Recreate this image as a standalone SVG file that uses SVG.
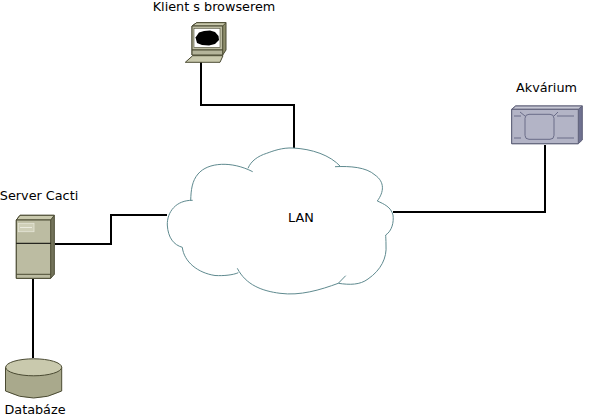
<svg xmlns="http://www.w3.org/2000/svg" width="603" height="419" viewBox="0 0 603 419">
<style>
text{font-family:"DejaVu Sans",sans-serif;font-size:12.8px;fill:#000}
.c{fill:none;stroke:#000;stroke-width:2}
.o{stroke:#4a4a32;stroke-width:1;stroke-linejoin:round}
.a{stroke:#5e6078;stroke-width:1;stroke-linejoin:round}
.l{fill:none;stroke:#6a6c88;stroke-width:1}
</style>
<rect width="603" height="419" fill="#fff"/>
<g id="connectors">
<path class="c" d="M201 62V105H294V148"/>
<path class="c" d="M55 244H111V215H167"/>
<path class="c" d="M393 212H545V145"/>
<path class="c" d="M33 279V358"/>
</g>
<g id="lan">
<path fill="#fff" stroke="none" d="M252.700 171.700C232 161 208 162 198 174C192 181 191 190 190.700 200.500C176 200 167 212 167.300 225C168 238 174 245 182.300 247.300C184 262 198 273 215 275.500C224 276 233 275 238.300 272.700C246 285 262 291 280 293.300C300 296 320 290 338.300 283.300C350 285 360 285 368 279C381 270 387 258 386 245C386 240 385.700 237 385.700 235C392 231 394 222 393 215C391 207 384 204 377.300 201C384 192 385 182 375 175C366 167 350 166 340.700 166.700C330 155 312 149 293 148C282 147.500 273 151 266.700 153.300C258 156 251 161 248 168.300Z"/>
<path fill="none" stroke="#5f8a8f" stroke-width="1" d="M252.700 171.700C232 161 208 162 198 174C192 181 191 190 190.700 200.500M192.700 200.300C176 200 167 212 167.300 225C168 238 174 245 182.300 247.300C184 262 198 273 215 275.500C224 276 233 275 238.300 272.700M237.300 268.300C246 285 262 291 280 293.300C300 296 320 290 338.300 283.300L345.700 275.700M338.300 283.300C350 285 360 285 368 279C381 270 387 258 386 245C386 240 385.700 237 385.700 235C392 231 394 222 393 215C391 207 384 204 377.300 201C384 192 385 182 375 175C366 167 350 166 335 166.700M340.700 166.700C330 155 312 149 293 148C282 147.500 273 151 266.700 153.300C258 156 251 161 248 168.300"/>
<text x="301" y="222" text-anchor="middle">LAN</text>
</g>
<g id="klient">
<path class="o" fill="#8c8c6a" d="M192 26L196.700 22.700H226V50L222.700 55H192Z"/>
<path class="o" fill="#c9c9ad" d="M192 26L196.700 22.700H226L222.700 26Z"/>
<rect class="o" x="192" y="26" width="30.700" height="24" fill="#bcbca2"/>
<rect x="194" y="28.300" width="26" height="19" fill="#fff" stroke="#4a4a32" stroke-width=".6"/>
<path fill="#000" d="M195.500 37.500L199 32.500L204 31L210 30.500L215 32L218.500 36L219 40L215 44L209 45.500L202 45L197 43Z"/>
<rect class="o" x="192" y="50" width="30.700" height="5" fill="#b4b49a"/>
<path class="o" fill="#c9c9ad" d="M192.700 55.700H223L220 62.300H185.300Z"/>
<text x="214" y="11" text-anchor="middle">Klient s browserem</text>
</g>
<g id="akvarium">
<path class="a" fill="#6f7190" d="M511.700 109.300L515.700 106H582.300V140L578.300 143.700H511.700Z"/>
<path class="a" fill="#c6c7d4" d="M511.700 109.300L515.700 106H582.300L578.300 109.300Z"/>
<rect class="a" x="511.700" y="109.300" width="66.600" height="34.400" fill="#b3b4c6"/>
<rect class="l" x="525" y="114.300" width="29" height="25" rx="4"/>
<path class="l" d="M514 116H521M520 112L525 116M554 116L558 112M557 116H574M514 138H521M557 138H574"/>
<text x="546.500" y="92" text-anchor="middle">Akvárium</text>
</g>
<g id="server">
<path class="o" fill="#73735a" d="M16.300 220L20 215.300H54.300V274.300L50.700 278.300H16.300Z"/>
<path class="o" fill="#c9c9ad" d="M16.300 220L20 215.300H54.300L50.700 220Z"/>
<rect class="o" x="16.300" y="220" width="34.400" height="58.300" fill="#bcbca2"/>
<path class="o" fill="none" d="M16.300 274.300H50.700"/>
<path d="M16.300 243.300H50.700" stroke="#000" stroke-width="1"/>
<rect x="18.300" y="223.300" width="15.700" height="8.400" fill="#cfcfb8" stroke="#e6e6d8" stroke-width=".8"/>
<path d="M20 227.500H32" stroke="#f2f2e8" stroke-width=".8"/>
<text x="39" y="200" text-anchor="middle">Server Cacti</text>
</g>
<g id="databaze">
<path class="o" fill="#a9a98c" d="M5.500 367.300V391Q33.700 405 61.700 391V367.300Z"/>
<ellipse class="o" cx="33.700" cy="367.300" rx="28" ry="8.500" fill="#c9c9ad"/>
<text x="35" y="414" text-anchor="middle">Databáze</text>
</g>
</svg>
